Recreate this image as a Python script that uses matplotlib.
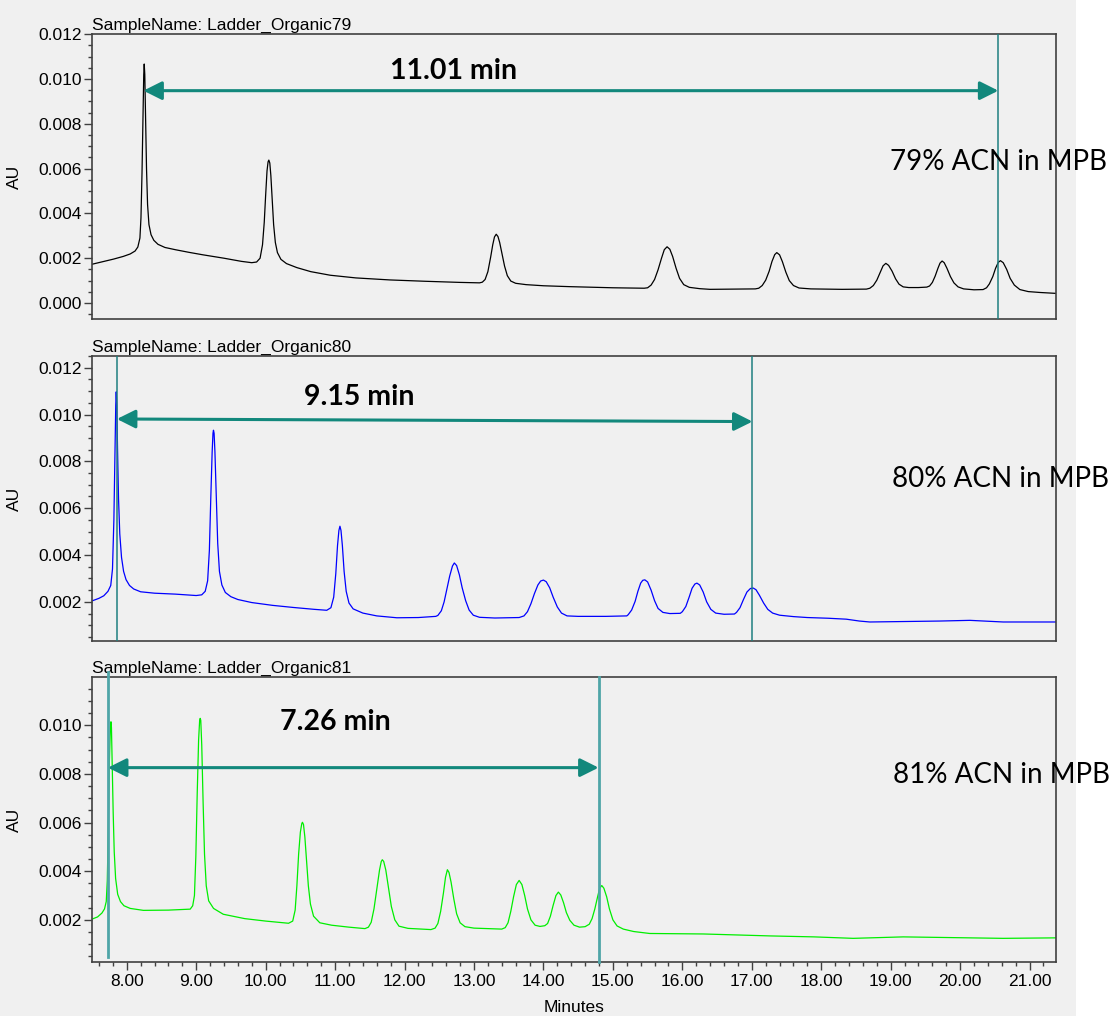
import numpy as np
import matplotlib
matplotlib.use("Agg")
import matplotlib.pyplot as plt
from matplotlib.patches import Rectangle
from matplotlib.ticker import MultipleLocator, FormatStrFormatter

# traced chromatograms, time in minutes, absorbance in mAU
t79 = [7.50, 7.65, 7.81, 7.95, 8.05, 8.12, 8.16, 8.19, 8.205, 8.22, 8.235, 8.245, 8.252, 8.26,
       8.27, 8.285, 8.30, 8.32, 8.35, 8.39, 8.45, 8.55, 8.70, 8.90, 9.10, 9.40, 9.65, 9.80,
       9.87, 9.92, 9.955, 9.98, 10.00, 10.02, 10.035, 10.046, 10.06, 10.075, 10.095, 10.115,
       10.14, 10.17, 10.22, 10.30, 10.45, 10.65, 10.93, 11.30, 11.79, 12.30, 12.80, 13.08,
       13.12, 13.16, 13.20, 13.24, 13.27, 13.295, 13.32, 13.345, 13.37, 13.40, 13.44, 13.48,
       13.53, 13.60, 13.75, 14.00, 14.38, 15.00, 15.45,
       15.50, 15.55, 15.60, 15.65, 15.70, 15.74, 15.78, 15.82, 15.86, 15.91, 15.96, 16.02,
       16.10, 16.25, 16.40, 16.80, 17.05,
       17.10, 17.15, 17.20, 17.25, 17.29, 17.33, 17.36, 17.40, 17.44, 17.49, 17.54, 17.60,
       17.68, 17.85, 18.30, 18.65,
       18.70, 18.75, 18.80, 18.85, 18.89, 18.93, 18.97, 19.02, 19.07, 19.12, 19.18, 19.26,
       19.40, 19.52,
       19.56, 19.60, 19.64, 19.68, 19.71, 19.74, 19.77, 19.81, 19.86, 19.91, 19.97, 20.05,
       20.20, 20.33,
       20.38, 20.42, 20.47, 20.51, 20.55, 20.58, 20.62, 20.67, 20.72, 20.78, 20.86, 20.98,
       21.15, 21.38]
au79 = [1.73, 1.84, 1.96, 2.08, 2.19, 2.32, 2.50, 2.90, 3.80, 5.80, 8.60, 10.20, 10.67, 10.20,
        8.60, 6.00, 4.40, 3.50, 3.05, 2.80, 2.62, 2.48, 2.38, 2.26, 2.15, 2.00, 1.86, 1.80,
        1.83, 2.00, 2.60, 3.60, 4.80, 5.90, 6.30, 6.38, 6.25, 5.70, 4.60, 3.50,
        2.70, 2.25, 1.95, 1.76, 1.58, 1.40, 1.24, 1.12, 1.03, 0.97, 0.92, 0.90,
        0.93, 1.05, 1.40, 2.05, 2.60, 2.95, 3.07, 2.97, 2.70, 2.25, 1.65, 1.22,
        0.98, 0.88, 0.82, 0.77, 0.73, 0.68, 0.66,
        0.68, 0.80, 1.05, 1.48, 2.00, 2.38, 2.51, 2.40, 2.08, 1.55, 1.10, 0.82,
        0.70, 0.64, 0.61, 0.62, 0.63,
        0.66, 0.78, 1.02, 1.42, 1.85, 2.16, 2.25, 2.15, 1.85, 1.38, 1.00, 0.78,
        0.67, 0.63, 0.61, 0.62,
        0.66, 0.78, 1.02, 1.38, 1.66, 1.77, 1.68, 1.42, 1.08, 0.84, 0.72, 0.69,
        0.69, 0.71,
        0.76, 0.92, 1.20, 1.55, 1.78, 1.875, 1.80, 1.55, 1.18, 0.90, 0.72, 0.63,
        0.59, 0.60,
        0.68, 0.85, 1.18, 1.55, 1.82, 1.89, 1.80, 1.50, 1.10, 0.80, 0.60, 0.51,
        0.47, 0.43]

t80 = [7.50, 7.60, 7.67, 7.73, 7.77, 7.795, 7.815, 7.83, 7.842, 7.849, 7.857, 7.868, 7.882,
       7.90, 7.925, 7.955, 7.99, 8.04, 8.10, 8.20, 8.40, 8.70, 9.00, 9.08, 9.13, 9.165, 9.19,
       9.21, 9.23, 9.242, 9.249, 9.258, 9.27, 9.29, 9.31, 9.335, 9.37, 9.42, 9.50, 9.60, 9.80,
       10.10, 10.40, 10.70, 10.88, 10.94, 10.98, 11.01, 11.035, 11.055, 11.07, 11.085, 11.105,
       11.13, 11.16, 11.20, 11.26, 11.40, 11.60, 11.89, 12.20, 12.45,
       12.48, 12.53, 12.57, 12.61, 12.65, 12.69, 12.717, 12.75, 12.79, 12.83, 12.88, 12.93,
       12.99, 13.08, 13.30, 13.65,
       13.72, 13.77, 13.82, 13.87, 13.92, 13.96, 14.00, 14.04, 14.09, 14.14, 14.20, 14.26,
       14.34, 14.50, 14.90, 15.20,
       15.22, 15.27, 15.32, 15.36, 15.40, 15.43, 15.46, 15.50, 15.55, 15.60, 15.65, 15.72,
       15.82, 15.97,
       16.00, 16.05, 16.10, 16.14, 16.18, 16.21, 16.25, 16.30, 16.35, 16.41, 16.48, 16.60,
       16.75,
       16.78, 16.83, 16.88, 16.93, 16.98, 17.02, 17.06, 17.11, 17.17, 17.23, 17.30, 17.40,
       17.60, 17.80, 18.10, 18.36, 18.55, 18.70, 19.18, 19.70, 20.14, 20.40, 20.62, 21.38]
au80 = [2.04, 2.15, 2.26, 2.45, 2.70, 3.40, 5.50, 8.30, 10.40, 10.97, 10.40, 8.50, 6.40,
        4.90, 3.90, 3.30, 2.95, 2.70, 2.55, 2.43, 2.37, 2.33, 2.27, 2.30, 2.45, 2.90, 4.20,
        6.40, 8.40, 9.20, 9.33, 9.20, 8.40, 6.40, 4.50, 3.30, 2.72, 2.40, 2.22, 2.10, 1.97,
        1.85, 1.76, 1.68, 1.64, 1.75, 2.20, 3.20, 4.40, 5.05, 5.23, 5.05, 4.40,
        3.30, 2.45, 1.95, 1.70, 1.52, 1.40, 1.32, 1.33, 1.38,
        1.42, 1.62, 2.00, 2.55, 3.10, 3.53, 3.66, 3.55, 3.15, 2.60, 2.05, 1.65,
        1.43, 1.34, 1.31, 1.33,
        1.40, 1.58, 1.92, 2.35, 2.72, 2.89, 2.93, 2.86, 2.60, 2.20, 1.78, 1.52,
        1.40, 1.38, 1.38, 1.40,
        1.45, 1.65, 2.02, 2.45, 2.80, 2.92, 2.94, 2.85, 2.50, 2.05, 1.72, 1.55,
        1.50, 1.51,
        1.58, 1.80, 2.22, 2.58, 2.76, 2.80, 2.72, 2.42, 2.00, 1.68, 1.52, 1.47,
        1.48,
        1.55, 1.75, 2.10, 2.42, 2.57, 2.59, 2.52, 2.28, 1.95, 1.68, 1.52, 1.43,
        1.37, 1.33, 1.30, 1.26, 1.18, 1.14, 1.16, 1.18, 1.21, 1.17, 1.14, 1.14]

t81 = [7.50, 7.58, 7.643, 7.68, 7.705, 7.72, 7.735, 7.75, 7.765, 7.773, 7.78, 7.792, 7.805,
       7.82, 7.84, 7.87, 7.91, 7.96, 8.05, 8.24, 8.60, 8.914, 8.95, 8.975, 8.995, 9.015, 9.035,
       9.05, 9.058, 9.066, 9.08, 9.10, 9.12, 9.145, 9.18, 9.25, 9.39, 9.70, 10.00, 10.33,
       10.39, 10.425, 10.45, 10.475, 10.50, 10.52, 10.53, 10.545, 10.565, 10.59, 10.615,
       10.645, 10.69, 10.78, 10.95, 11.20, 11.43,
       11.48, 11.52, 11.56, 11.60, 11.64, 11.665, 11.68, 11.70, 11.73, 11.77, 11.81, 11.86,
       11.92, 12.05, 12.38,
       12.44, 12.48, 12.52, 12.56, 12.59, 12.617, 12.64, 12.67, 12.71, 12.75, 12.80, 12.87,
       13.00, 13.40,
       13.45, 13.49, 13.53, 13.57, 13.61, 13.65, 13.69, 13.73, 13.77, 13.82, 13.88, 13.95,
       14.02,
       14.06, 14.10, 14.14, 14.18, 14.215, 14.25, 14.29, 14.33, 14.38, 14.44, 14.52, 14.60,
       14.66,
       14.70, 14.74, 14.78, 14.81, 14.84, 14.87, 14.91, 14.95, 15.00, 15.06, 15.15, 15.30,
       15.53, 16.30, 17.26, 17.90, 18.46, 19.18, 20.14, 20.62, 21.38]
au81 = [2.03, 2.12, 2.28, 2.45, 2.75, 3.60, 5.80, 8.50, 9.90, 10.14, 9.90, 8.30, 6.40,
        4.80, 3.70, 3.05, 2.75, 2.58, 2.47, 2.39, 2.40, 2.44, 2.58, 3.00, 4.60, 7.20, 9.40,
        10.20, 10.28, 10.20, 9.20, 6.80, 4.70, 3.40, 2.78, 2.47, 2.23, 2.05, 1.95, 1.86,
        1.95, 2.40, 3.40, 4.70, 5.60, 5.95, 6.01, 5.92, 5.40, 4.40, 3.40,
        2.65, 2.15, 1.88, 1.78, 1.70, 1.64,
        1.70, 1.90, 2.45, 3.25, 4.05, 4.40, 4.47, 4.40, 4.05, 3.30, 2.55, 2.00,
        1.74, 1.65, 1.60,
        1.66, 1.85, 2.35, 3.10, 3.75, 4.06, 3.95, 3.55, 2.85, 2.25, 1.88, 1.72,
        1.66, 1.62,
        1.68, 1.88, 2.35, 2.95, 3.45, 3.62, 3.45, 3.00, 2.45, 2.00, 1.78, 1.73,
        1.76,
        1.85, 2.15, 2.60, 3.00, 3.14, 3.02, 2.70, 2.30, 1.98, 1.78, 1.70, 1.72,
        1.82,
        2.05, 2.45, 2.95, 3.30, 3.41, 3.30, 2.95, 2.45, 2.00, 1.75, 1.62, 1.52,
        1.44, 1.42, 1.34, 1.30, 1.24, 1.30, 1.26, 1.24, 1.26]

samples = ["Ladder_Organic79", "Ladder_Organic80", "Ladder_Organic81"]
conditions = ["79% ACN in MPB", "80% ACN in MPB", "81% ACN in MPB"]
gaps = ["11.01 min", "9.15 min", "7.26 min"]
# arrow ends (min, mAU) and cursor lines (min)
arrow_t = [(8.24, 20.55), (7.859, 17.01), (7.73, 14.794)]
arrow_au = [(9.48, 9.48), (9.81, 9.70), (8.255, 8.255)]
cursors = [[20.55], [7.859, 17.01], [7.73, 14.794]]

traces = [(t79, au79), (t80, au80), (t81, au81)]
colors = ["black", "#0000ff", "#00ee00"]
ylims = [(-0.714, 12.01), (0.328, 12.50), (0.268, 11.98)]
tops = [34, 356, 677]
label_pos = [(12.71, 10.0), (11.35, 10.40), (11.0, 9.79)]
cond_pos = [(18.985, 5.94), (19.02, 6.90), (19.03, 7.61)]

W, H = 1115, 1016
fig = plt.figure(figsize=(W / 100, H / 100), dpi=100, facecolor="white")
fig.patches.append(Rectangle((0, 0), 1076 / W, 1, transform=fig.transFigure,
                             facecolor="#f0f0f0", edgecolor="none", zorder=-10))

tick_font = "Liberation Sans"
teal = "#12887c"

for i in range(3):
    ax = fig.add_axes([92 / W, 1 - (tops[i] + 285) / H, 964 / W, 285 / H])
    ax.set_facecolor("#f0f0f0")
    t, au = traces[i]
    ax.plot(t, np.array(au) / 1000, color=colors[i], lw=0.9)
    ax.set_xlim(7.5, 21.38)
    ax.set_ylim(ylims[i][0] / 1000, ylims[i][1] / 1000)

    for s in ax.spines.values():
        s.set_color("#404040")
        s.set_linewidth(1.2)

    ax.yaxis.set_major_locator(MultipleLocator(0.002))
    ax.yaxis.set_minor_locator(MultipleLocator(0.0005))
    ax.yaxis.set_major_formatter(FormatStrFormatter("%.3f"))
    ax.tick_params(axis="y", which="major", length=6, width=1, color="#404040", pad=1.5,
                   labelsize=12.5)
    ax.tick_params(axis="y", which="minor", length=3, width=1, color="#404040")
    for lab in ax.get_yticklabels():
        lab.set_fontfamily(tick_font)

    if i < 2:
        ax.tick_params(axis="x", which="both", bottom=False, labelbottom=False)
    else:
        ax.xaxis.set_major_locator(MultipleLocator(1))
        ax.xaxis.set_minor_locator(MultipleLocator(0.2))
        ax.xaxis.set_major_formatter(FormatStrFormatter("%.2f"))
        ax.tick_params(axis="x", which="major", length=6, width=1, color="#404040", pad=3,
                       labelsize=12.5)
        ax.tick_params(axis="x", which="minor", length=3, width=1, color="#404040")
        for lab in ax.get_xticklabels():
            lab.set_fontfamily(tick_font)

    ax.set_ylabel("AU", fontsize=12.5, family=tick_font)
    ax.yaxis.set_label_coords(-0.0726, 0.5)
    ax.text(0, 1.004, "SampleName: " + samples[i], transform=ax.transAxes,
            ha="left", va="bottom", fontsize=12.5, family=tick_font)

    # cursor lines
    for j, c in enumerate(cursors[i]):
        if i == 2:
            lo, hi = (0.018, 1.018) if j == 0 else (0, 1)
            ax.axvline(c, lo, hi, color="#4fa5a8", lw=2.0, zorder=3, clip_on=False)
        else:
            ax.axvline(c, color="#1f7f80", lw=1.1, zorder=3)

    x0, x1 = arrow_t[i]
    y0, y1 = arrow_au[i]
    ax.annotate("", xy=(x1, y1 / 1000), xytext=(x0, y0 / 1000),
                arrowprops=dict(arrowstyle="<|-|>,head_length=0.4,head_width=0.2",
                                mutation_scale=28, color=teal, lw=2.2,
                                shrinkA=0, shrinkB=0), zorder=4)
    ax.text(label_pos[i][0], label_pos[i][1] / 1000, gaps[i], ha="center", va="baseline",
            fontsize=20.5, fontweight="bold", family="Lato")
    ax.text(cond_pos[i][0], cond_pos[i][1] / 1000, conditions[i], ha="left", va="baseline",
            fontsize=20, family="Lato", clip_on=False, zorder=5)

fig.text(574 / W, 1 - 1007 / H, "Minutes", ha="center", va="center", fontsize=12.5,
         family=tick_font)

fig.savefig("out.png", dpi=100, facecolor=fig.get_facecolor())
